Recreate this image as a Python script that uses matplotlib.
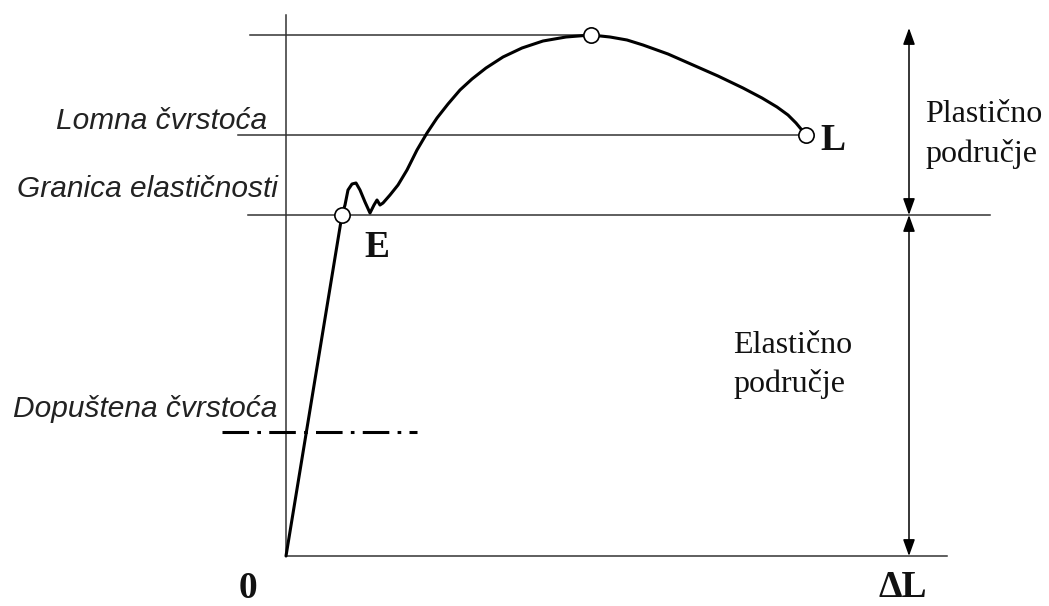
import matplotlib.pyplot as plt
from matplotlib.patches import FancyArrowPatch

# diagram values (origin at the "0" corner)
elastic_x = [0, 56]
elastic_y = [0, 341]

curve_x = [56, 59, 62, 66, 70, 74, 79, 84, 88, 91, 94, 97, 104, 112, 121, 131, 141, 151,
           162, 174, 186, 200, 217, 236, 257, 280, 305, 324, 341, 357, 382, 407, 432,
           457, 476, 491, 502, 510, 515, 520]
curve_y = [341, 351, 366, 372, 373, 366, 354, 343, 351, 356, 351, 353, 361, 371, 386, 406,
           423, 438, 452, 466, 477, 488, 499, 508, 515, 519, 521, 519, 516, 511, 502, 491,
           480, 468, 458, 449, 441, 433, 427, 421]

points_x = [56, 305, 520]
points_y = [341, 521, 421]

level_max = 521
level_break = 421
level_elastic = 341
level_allowed = 124

x_end = 661
arrow_x = 623
arrow_top = 528

plt.rcParams['font.family'] = ['Liberation Sans', 'DejaVu Sans']

fig = plt.figure(figsize=(10.49, 6.06), dpi=100)
ax = fig.add_axes([0, 0, 1, 1])
ax.set_xlim(-286, 763)
ax.set_ylim(-50, 556)
ax.axis('off')

thin = dict(color='#333333', lw=1.1)

# axes of the diagram
ax.plot([0, 0], [0, 541], **thin)
ax.plot([0, x_end], [0, 0], **thin)

# reference levels
ax.plot([-36, points_x[1]], [level_max, level_max], **thin)
ax.plot([-48, points_x[2]], [level_break, level_break], **thin)
ax.plot([-38, 704], [level_elastic, level_elastic], **thin)
ax.plot([-64, 131], [level_allowed, level_allowed], color='black', lw=2.2,
        ls=(0, (8.7, 2.7, 1.2, 2.7)))

# stress-strain curve
ax.plot(elastic_x, elastic_y, color='black', lw=2.2, solid_capstyle='round')
ax.plot(curve_x, curve_y, color='black', lw=2.2, solid_joinstyle='round',
        solid_capstyle='round')
ax.plot(points_x, points_y, 'o', ms=11, mfc='white', mec='black', mew=1.2)

# region arrows
for y0, y1 in [(level_elastic, arrow_top), (level_elastic, 0)]:
    ax.add_patch(FancyArrowPatch((arrow_x, y0), (arrow_x, y1),
                                 arrowstyle='<|-|>,head_length=0.5,head_width=0.18',
                                 mutation_scale=20, color='black', lw=1.1,
                                 shrinkA=0, shrinkB=0))

lab = dict(fontsize=21.5, style='italic', color='#222222', va='baseline', ha='right')
ax.text(-19, 427, 'Lomna čvrstoća', **lab)
ax.text(-8, 359, 'Granica elastičnosti', **lab)
ax.text(-9, 139, 'Dopuštena čvrstoća', **lab)

serif = dict(family=['Liberation Serif', 'DejaVu Serif'], fontsize=23, color='#111111',
             va='baseline', ha='left')
ax.text(639, 434, 'Plastično', **serif)
ax.text(639, 394, 'područje', **serif)
ax.text(447, 203, 'Elastično', **serif)
ax.text(447, 164, 'područje', **serif)

bold = dict(family=['Liberation Serif', 'DejaVu Serif'], fontsize=27, weight='bold',
            color='#111111', va='baseline')
ax.text(91, 299, 'E', ha='center', **bold)
ax.text(534, 406, 'L', ha='left', **bold)
ax.text(-38, -42, '0', ha='center', **bold)
ax.text(617, -41, 'ΔL', ha='center', **bold)

fig.savefig('out.png', dpi=100)
